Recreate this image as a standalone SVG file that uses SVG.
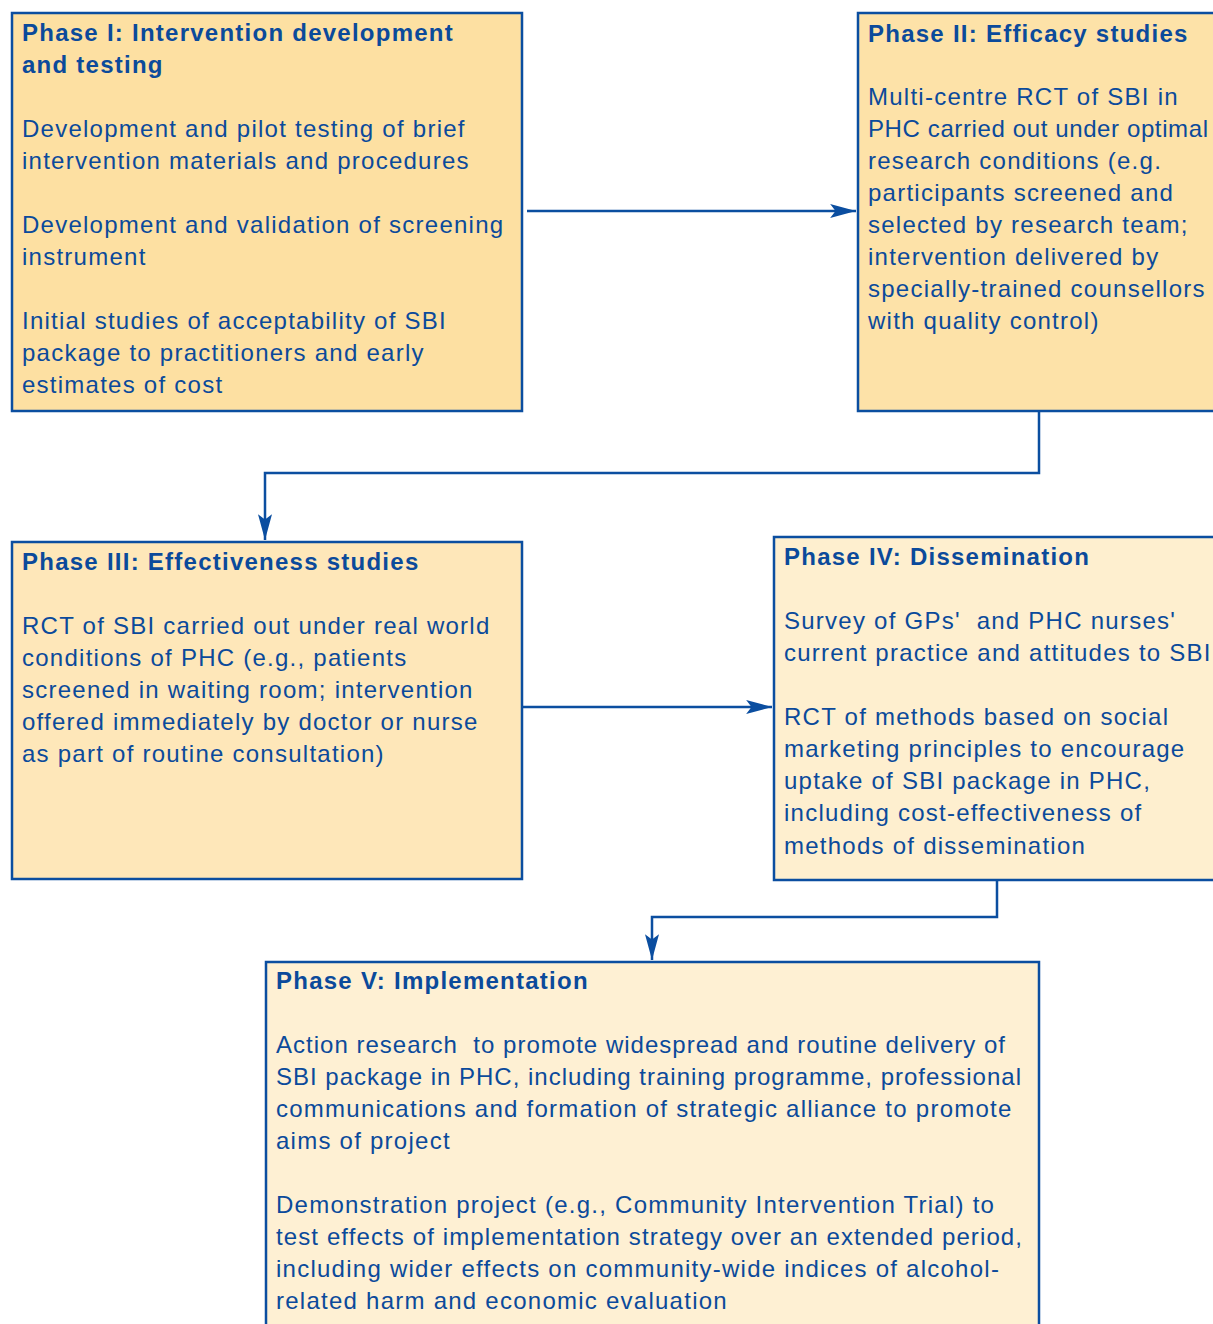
<svg xmlns="http://www.w3.org/2000/svg" width="1213" height="1324" viewBox="0 0 1213 1324">
<style>
.box{stroke:#0B4EA0;stroke-width:2.5}
.t{font-family:"Liberation Sans",Arial,sans-serif;font-size:24px;fill:#0B4A9B;letter-spacing:1.25px}
.f{letter-spacing:0}
.b{font-weight:bold}
.c{fill:none;stroke:#0B4EA0;stroke-width:2.5}
</style>
<defs>
<marker id="ah" markerUnits="userSpaceOnUse" markerWidth="26" markerHeight="14" viewBox="0 0 24 13" refX="24" refY="6.5" orient="auto">
<path d="M0,0 L24,6.5 L0,13 L5,6.5 Z" fill="#0B4EA0"/>
</marker>
</defs>
<rect width="1213" height="1324" fill="#fff"/>
<g id="phase1">
<rect class="box" x="12" y="13" width="510" height="398" fill="#FDE0A2"/>
<text class="t b" x="22" y="41">Phase I: Intervention development</text>
<text class="t b" x="22" y="73">and testing</text>
<text class="t" x="22" y="137">Development and pilot testing of brief</text>
<text class="t" x="22" y="169">intervention materials and procedures</text>
<text class="t" x="22" y="233">Development and validation of screening</text>
<text class="t" x="22" y="265">instrument</text>
<text class="t" x="22" y="329">Initial studies of acceptability of SBI</text>
<text class="t" x="22" y="361">package to practitioners and early</text>
<text class="t" x="22" y="393">estimates of cost</text>
</g>
<g id="phase2">
<rect class="box" x="858" y="13" width="362" height="398" fill="#FDE2A8"/>
<text class="t b" x="868" y="42">Phase II: Efficacy studies</text>
<text class="t" x="868" y="105">Multi-centre RCT of SBI in</text>
<text class="t f" x="868" y="137" textLength="340" lengthAdjust="spacing">PHC carried out under optimal</text>
<text class="t" x="868" y="169">research conditions (e.g.</text>
<text class="t" x="868" y="201">participants screened and</text>
<text class="t" x="868" y="233">selected by research team;</text>
<text class="t" x="868" y="265">intervention delivered by</text>
<text class="t" x="868" y="297">specially-trained counsellors</text>
<text class="t" x="868" y="329">with quality control)</text>
</g>
<g id="phase3">
<rect class="box" x="12" y="542" width="510" height="337" fill="#FEE7B9"/>
<text class="t b" x="22" y="570">Phase III: Effectiveness studies</text>
<text class="t" x="22" y="634">RCT of SBI carried out under real world</text>
<text class="t" x="22" y="666">conditions of PHC (e.g., patients</text>
<text class="t" x="22" y="698">screened in waiting room; intervention</text>
<text class="t" x="22" y="730">offered immediately by doctor or nurse</text>
<text class="t" x="22" y="762">as part of routine consultation)</text>
</g>
<g id="phase4">
<rect class="box" x="774" y="537" width="446" height="343" fill="#FEEFCF"/>
<text class="t b" x="784" y="565">Phase IV: Dissemination</text>
<text class="t" x="784" y="629" xml:space="preserve">Survey of GPs'  and PHC nurses'</text>
<text class="t" x="784" y="661">current practice and attitudes to SBI</text>
<text class="t" x="784" y="725">RCT of methods based on social</text>
<text class="t" x="784" y="757">marketing principles to encourage</text>
<text class="t" x="784" y="789">uptake of SBI package in PHC,</text>
<text class="t" x="784" y="821">including cost-effectiveness of</text>
<text class="t" x="784" y="854">methods of dissemination</text>
</g>
<g id="phase5">
<rect class="box" x="266" y="962" width="773" height="372" fill="#FEF0D3"/>
<text class="t b" x="276" y="989">Phase V: Implementation</text>
<text class="t f" x="276" y="1053" xml:space="preserve" textLength="729" lengthAdjust="spacing">Action research  to promote widespread and routine delivery of</text>
<text class="t f" x="276" y="1085" textLength="745" lengthAdjust="spacing">SBI package in PHC, including training programme, professional</text>
<text class="t" x="276" y="1117">communications and formation of strategic alliance to promote</text>
<text class="t" x="276" y="1149">aims of project</text>
<text class="t" x="276" y="1213">Demonstration project (e.g., Community Intervention Trial) to</text>
<text class="t f" x="276" y="1245" textLength="746" lengthAdjust="spacing">test effects of implementation strategy over an extended period,</text>
<text class="t" x="276" y="1277">including wider effects on community-wide indices of alcohol-</text>
<text class="t" x="276" y="1309">related harm and economic evaluation</text>
</g>
<g id="connectors">
<path class="c" d="M527,211 H856" marker-end="url(#ah)"/>
<path class="c" d="M1039,411 V473 H265 V540" marker-end="url(#ah)"/>
<path class="c" d="M522,707 H772" marker-end="url(#ah)"/>
<path class="c" d="M997,880 V917 H652 V960" marker-end="url(#ah)"/>
</g>
</svg>
